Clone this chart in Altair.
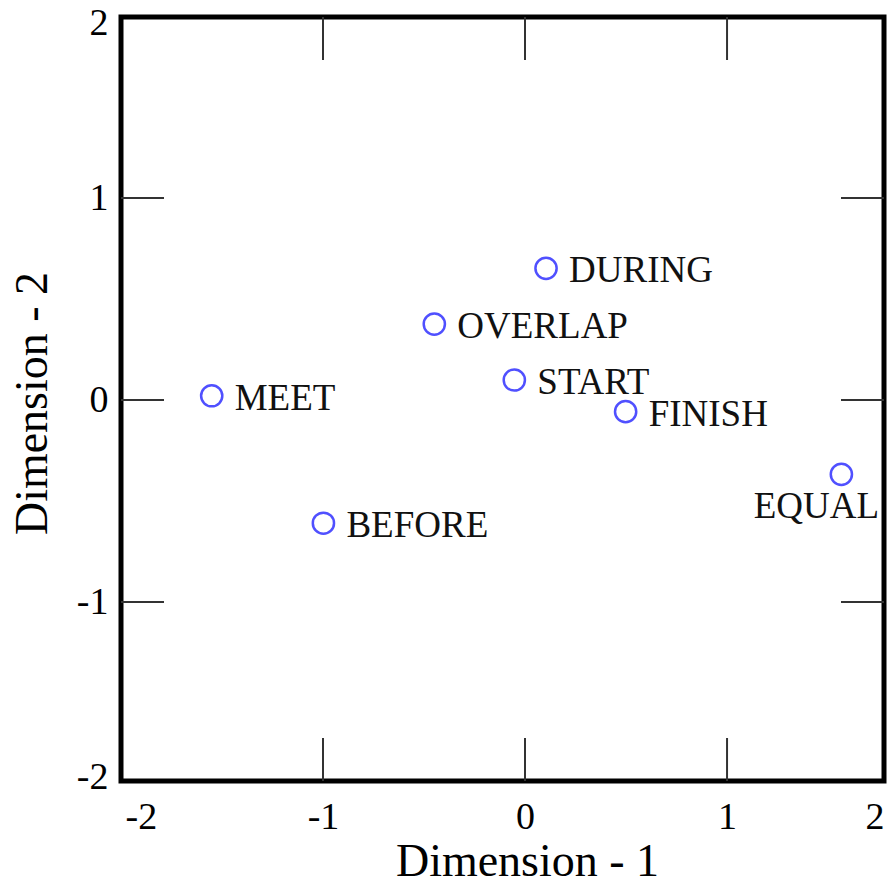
import altair as alt
import pandas as pd

# ---- data ----
labels = ["MEET", "OVERLAP", "BEFORE", "DURING", "START", "FINISH", "EQUAL"]
dim1 = [-1.551, -0.449, -0.998, 0.104, -0.053, 0.498, 1.566]
dim2 = [0.021, 0.376, -0.610, 0.652, 0.099, -0.058, -0.368]

# axis extents and tick labels as drawn in the reference
x_domain = [-2.0, 1.777]
y_domain = [-1.886, 1.896]
x_tick_values = [-2.0, -1.0, 0.0, 1.0, 1.777]
y_tick_values = [-1.886, -1.0, 0.0, 1.0, 1.896]
tick_labels = ["-2", "-1", "0", "1", "2"]
inner_ticks = [-1, 0, 1]

W, H = 763, 764
TICK = 43
FONT = "Liberation Serif"

df = pd.DataFrame({"label": labels, "d1": dim1, "d2": dim2})
ticks_df = pd.DataFrame({"t": inner_ticks})

xs = alt.Scale(domain=x_domain, nice=False, zero=False)
ys = alt.Scale(domain=y_domain, nice=False, zero=False)

lab_js = "[" + ",".join("'%s'" % s for s in tick_labels) + "]"
x_vals_js = "[" + ",".join(str(v) for v in x_tick_values) + "]"
y_vals_js = "[" + ",".join(str(v) for v in y_tick_values) + "]"

x_axis = alt.Axis(
    values=x_tick_values,
    labelExpr=f"{lab_js}[indexof({x_vals_js}, datum.value)]",
    labelOffset={"condition": {"test": "datum.value < -1.5", "value": 4},
                 "value": 0},
    title="Dimension - 1",
    titleX=406, titleY=94, titleBaseline="alphabetic", titleAlign="center",
    titleAnchor="start",
    labelPadding=17,
)
y_axis = alt.Axis(
    values=y_tick_values,
    labelExpr=f"{lab_js}[indexof({y_vals_js}, datum.value)]",
    labelOffset={"condition": [{"test": "datum.value > 1.5", "value": 6},
                               {"test": "datum.value < -1.5", "value": -4}],
                 "value": 0},
    title="Dimension - 2",
    titleX=-75, titleY=386, titleBaseline="alphabetic", titleAlign="center",
    titleAngle=270, titleAnchor="start",
    labelPadding=13,
)

base = alt.Chart(df)

points = base.mark_point(
    shape="circle", filled=False, size=450, strokeWidth=2.5, color="#5050ff", opacity=1
).encode(
    x=alt.X("d1:Q", scale=xs, axis=x_axis),
    y=alt.Y("d2:Q", scale=ys, axis=y_axis),
)

text_main = base.transform_filter(alt.datum.label != "EQUAL").mark_text(
    align="left", baseline="middle", dx=23, dy=3, font=FONT, fontSize=37, color="#111111"
).encode(
    x=alt.X("d1:Q", scale=xs, axis=x_axis),
    y=alt.Y("d2:Q", scale=ys, axis=y_axis),
    text="label:N",
)

text_equal = base.transform_filter(alt.datum.label == "EQUAL").mark_text(
    align="center", baseline="middle", dx=-25, dy=33, font=FONT, fontSize=37, color="#111111"
).encode(
    x=alt.X("d1:Q", scale=xs, axis=x_axis),
    y=alt.Y("d2:Q", scale=ys, axis=y_axis),
    text="label:N",
)

tick_style = dict(color="#333333", strokeWidth=2)
tk = alt.Chart(ticks_df)
bottom_ticks = tk.mark_rule(**tick_style).encode(
    x=alt.X("t:Q", scale=xs, axis=x_axis), y=alt.value(H), y2=alt.value(H - TICK)
)
top_ticks = tk.mark_rule(**tick_style).encode(
    x=alt.X("t:Q", scale=xs, axis=x_axis), y=alt.value(0), y2=alt.value(TICK)
)
left_ticks = tk.mark_rule(**tick_style).encode(
    y=alt.Y("t:Q", scale=ys, axis=y_axis), x=alt.value(0), x2=alt.value(TICK)
)
right_ticks = tk.mark_rule(**tick_style).encode(
    y=alt.Y("t:Q", scale=ys, axis=y_axis), x=alt.value(W), x2=alt.value(W - TICK)
)

chart = alt.layer(
    points, bottom_ticks, top_ticks, left_ticks, right_ticks, text_main, text_equal
).properties(
    width=W, height=H,
    autosize=alt.AutoSizeParams(type="none"),
    padding={"left": 121, "top": 17, "right": 7, "bottom": 104},
    background="white",
).configure_view(
    stroke="black", strokeWidth=5
).configure_axis(
    grid=False, ticks=False, domain=False,
    labelFont=FONT, labelFontSize=38, labelColor="black",
    titleFont=FONT, titleFontSize=46, titleFontWeight="normal", titleColor="black",
)

chart.save("out.html", embed_options={"renderer": "svg", "actions": False})
